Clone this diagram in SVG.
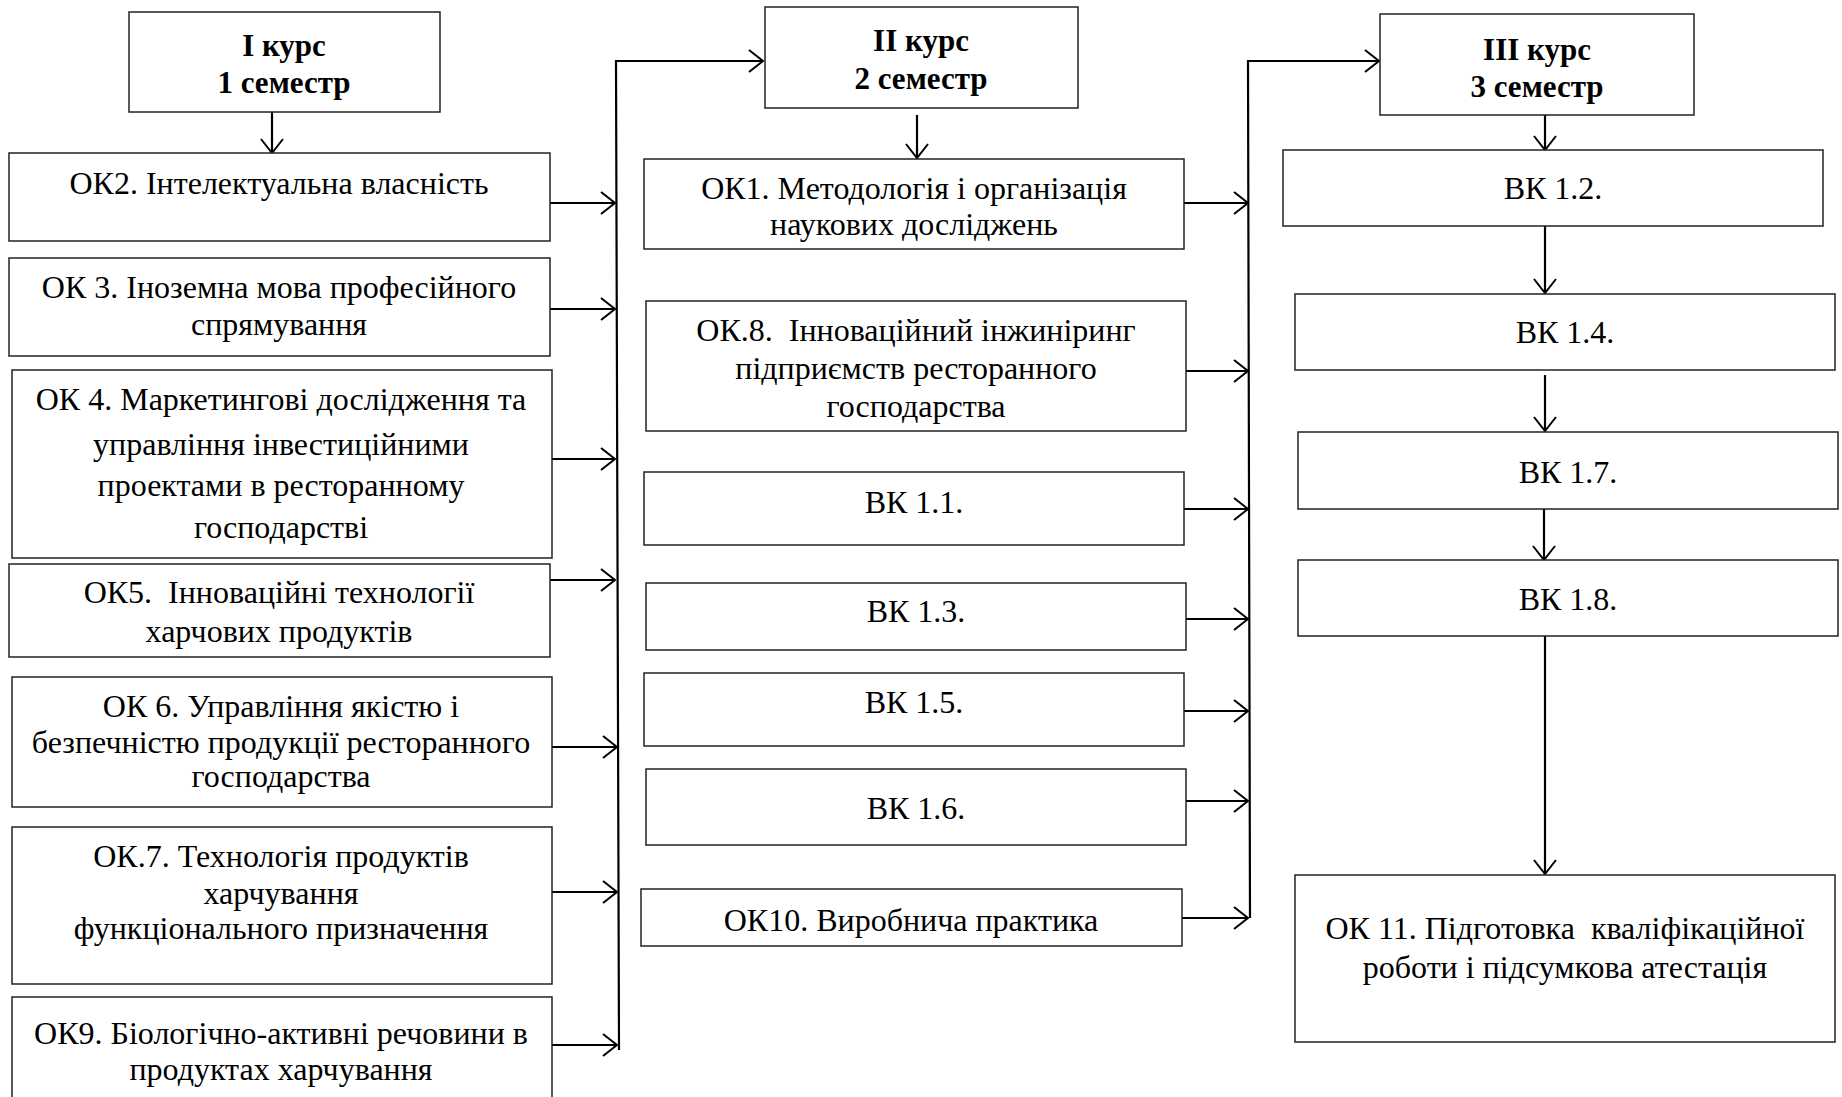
<svg xmlns="http://www.w3.org/2000/svg" width="1842" height="1097" viewBox="0 0 1842 1097">
<style>
.box{fill:#fff;stroke:#222;stroke-width:1.5}
.t{font-family:"Liberation Serif","Times New Roman",serif;font-size:32px;fill:#000;text-anchor:middle;white-space:pre}
.b{font-weight:bold;font-size:31px}
.c{fill:none;stroke:#000;stroke-width:2.2}
</style>
<defs>
<marker id="ah" viewBox="0 0 16 24" refX="15" refY="12" markerWidth="16" markerHeight="24" markerUnits="userSpaceOnUse" orient="auto">
<path d="M1,1 L15,12 L1,23" fill="none" stroke="#000" stroke-width="2"/>
</marker>
</defs>
<rect width="1842" height="1097" fill="#fff"/>

<g id="connectors">
<line class="c" x1="272" y1="112" x2="272" y2="153" marker-end="url(#ah)"/>
<line class="c" x1="550" y1="203" x2="615" y2="203" marker-end="url(#ah)"/>
<line class="c" x1="550" y1="309" x2="615" y2="309" marker-end="url(#ah)"/>
<line class="c" x1="552" y1="459" x2="615" y2="459" marker-end="url(#ah)"/>
<line class="c" x1="550" y1="580" x2="615" y2="580" marker-end="url(#ah)"/>
<line class="c" x1="552" y1="747" x2="617" y2="747" marker-end="url(#ah)"/>
<line class="c" x1="552" y1="892" x2="617" y2="892" marker-end="url(#ah)"/>
<line class="c" x1="552" y1="1045" x2="617" y2="1045" marker-end="url(#ah)"/>
<polyline class="c" points="619,1050 616,61 763,61" marker-end="url(#ah)"/>

<line class="c" x1="917" y1="115" x2="917" y2="158" marker-end="url(#ah)"/>
<line class="c" x1="1184" y1="203" x2="1248" y2="203" marker-end="url(#ah)"/>
<line class="c" x1="1186" y1="371" x2="1248" y2="371" marker-end="url(#ah)"/>
<line class="c" x1="1184" y1="509" x2="1248" y2="509" marker-end="url(#ah)"/>
<line class="c" x1="1186" y1="619" x2="1248" y2="619" marker-end="url(#ah)"/>
<line class="c" x1="1182" y1="711" x2="1248" y2="711" marker-end="url(#ah)"/>
<line class="c" x1="1186" y1="801" x2="1248" y2="801" marker-end="url(#ah)"/>
<line class="c" x1="1182" y1="918" x2="1248" y2="918" marker-end="url(#ah)"/>
<polyline class="c" points="1250,918 1248,61 1379,61" marker-end="url(#ah)"/>

<line class="c" x1="1545" y1="115" x2="1545" y2="150" marker-end="url(#ah)"/>
<line class="c" x1="1545" y1="226" x2="1545" y2="293" marker-end="url(#ah)"/>
<line class="c" x1="1545" y1="375" x2="1545" y2="431" marker-end="url(#ah)"/>
<line class="c" x1="1544" y1="509" x2="1544" y2="560" marker-end="url(#ah)"/>
<line class="c" x1="1545" y1="636" x2="1545" y2="874" marker-end="url(#ah)"/>
</g>

<g id="n-course1">
<rect class="box" x="129" y="12" width="311" height="100"/>
<text class="t b" x="284" y="56">І курс</text>
<text class="t b" x="284" y="93">1 семестр</text>
</g>
<g id="n-ok2">
<rect class="box" x="9" y="153" width="541" height="88"/>
<text class="t" x="279" y="194">ОК2. Інтелектуальна власність</text>
</g>
<g id="n-ok3">
<rect class="box" x="9" y="258" width="541" height="98"/>
<text class="t" x="279" y="298">ОК 3. Іноземна мова професійного</text>
<text class="t" x="279" y="335">спрямування</text>
</g>
<g id="n-ok4">
<rect class="box" x="12" y="370" width="540" height="188"/>
<text class="t" x="281" y="410">ОК 4. Маркетингові дослідження та</text>
<text class="t" x="281" y="455">управління інвестиційними</text>
<text class="t" x="281" y="496">проектами в ресторанному</text>
<text class="t" x="281" y="538">господарстві</text>
</g>
<g id="n-ok5">
<rect class="box" x="9" y="564" width="541" height="93"/>
<text class="t" x="279" y="603">ОК5.  Інноваційні технології</text>
<text class="t" x="279" y="642">харчових продуктів</text>
</g>
<g id="n-ok6">
<rect class="box" x="12" y="677" width="540" height="130"/>
<text class="t" x="281" y="717">ОК 6. Управління якістю і</text>
<text class="t" x="281" y="753">безпечністю продукції ресторанного</text>
<text class="t" x="281" y="787">господарства</text>
</g>
<g id="n-ok7">
<rect class="box" x="12" y="827" width="540" height="157"/>
<text class="t" x="281" y="867">ОК.7. Технологія продуктів</text>
<text class="t" x="281" y="904">харчування</text>
<text class="t" x="281" y="939">функціонального призначення</text>
</g>
<g id="n-ok9">
<rect class="box" x="12" y="997" width="540" height="120"/>
<text class="t" x="281" y="1044">ОК9. Біологічно-активні речовини в</text>
<text class="t" x="281" y="1080">продуктах харчування</text>
</g>

<g id="n-course2">
<rect class="box" x="765" y="7" width="313" height="101"/>
<text class="t b" x="921" y="51">ІІ курс</text>
<text class="t b" x="921" y="89">2 семестр</text>
</g>
<g id="n-ok1">
<rect class="box" x="644" y="159" width="540" height="90"/>
<text class="t" x="914" y="199">ОК1. Методологія і організація</text>
<text class="t" x="914" y="235">наукових досліджень</text>
</g>
<g id="n-ok8">
<rect class="box" x="646" y="301" width="540" height="130"/>
<text class="t" x="916" y="341">ОК.8.  Інноваційний інжиніринг</text>
<text class="t" x="916" y="379">підприємств ресторанного</text>
<text class="t" x="916" y="417">господарства</text>
</g>
<g id="n-vk11">
<rect class="box" x="644" y="472" width="540" height="73"/>
<text class="t" x="914" y="513">ВК 1.1.</text>
</g>
<g id="n-vk13">
<rect class="box" x="646" y="583" width="540" height="67"/>
<text class="t" x="916" y="622">ВК 1.3.</text>
</g>
<g id="n-vk15">
<rect class="box" x="644" y="673" width="540" height="73"/>
<text class="t" x="914" y="713">ВК 1.5.</text>
</g>
<g id="n-vk16">
<rect class="box" x="646" y="769" width="540" height="76"/>
<text class="t" x="916" y="819">ВК 1.6.</text>
</g>
<g id="n-ok10">
<rect class="box" x="641" y="889" width="541" height="57"/>
<text class="t" x="911" y="931">ОК10. Виробнича практика</text>
</g>

<g id="n-course3">
<rect class="box" x="1380" y="14" width="314" height="101"/>
<text class="t b" x="1537" y="60">ІІІ курс</text>
<text class="t b" x="1537" y="97">3 семестр</text>
</g>
<g id="n-vk12">
<rect class="box" x="1283" y="150" width="540" height="76"/>
<text class="t" x="1553" y="199">ВК 1.2.</text>
</g>
<g id="n-vk14">
<rect class="box" x="1295" y="294" width="540" height="76"/>
<text class="t" x="1565" y="343">ВК 1.4.</text>
</g>
<g id="n-vk17">
<rect class="box" x="1298" y="432" width="540" height="77"/>
<text class="t" x="1568" y="483">ВК 1.7.</text>
</g>
<g id="n-vk18">
<rect class="box" x="1298" y="560" width="540" height="76"/>
<text class="t" x="1568" y="610">ВК 1.8.</text>
</g>
<g id="n-ok11">
<rect class="box" x="1295" y="875" width="540" height="167"/>
<text class="t" x="1565" y="939">ОК 11. Підготовка  кваліфікаційної</text>
<text class="t" x="1565" y="978">роботи і підсумкова атестація</text>
</g>
</svg>
